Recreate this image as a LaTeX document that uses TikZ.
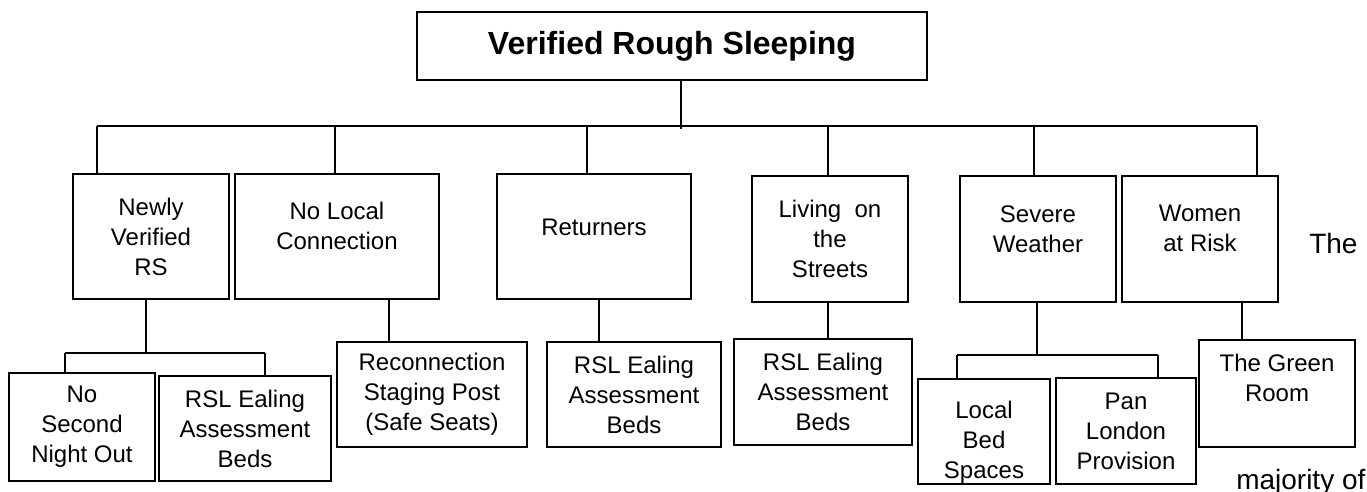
\documentclass[tikz,border=0pt]{standalone}
\usepackage{fontspec}
\setmainfont{Liberation Sans}
\tikzset{
  catbox/.style={rectangle, draw=black, line width=1.4pt, align=center, inner sep=0pt,
                 font=\fontsize{18}{22.5}\selectfont},
  topbox/.style={catbox, font=\fontsize{24}{28}\selectfont\bfseries},
  link/.style={line width=1.1pt, draw=black},
  side/.style={anchor=base west, inner sep=0pt, font=\fontsize{21}{25}\selectfont},
}
\begin{document}
\begin{tikzpicture}[x=0.75pt, y=-0.75pt]
  \useasboundingbox (0,0) rectangle (1367,492);
  % top
  \node[topbox, minimum width=382.5pt, minimum height=51pt] (root) at (672,46) {Verified Rough Sleeping};
  % groups
  \node[catbox, minimum width=117pt, minimum height=93.75pt] (newly) at (151,236.5) {Newly\\Verified\\RS};
  \node[catbox, minimum width=153pt, minimum height=93.75pt] (nolocal) at (337,236.5) {No Local\\Connection\\[-6.7pt]\mbox{}};
  \node[catbox, minimum width=145.5pt, minimum height=93.75pt] (returners) at (594,236.5) {Returners\\[-9pt]\mbox{}};
  \node[catbox, minimum width=117pt, minimum height=94.5pt] (living) at (830,239) {Living\ \ on\\the\\Streets};
  \node[catbox, minimum width=117pt, minimum height=94.5pt] (severe) at (1038,239) {Severe\\Weather\\[-7.5pt]\mbox{}};
  \node[catbox, minimum width=117pt, minimum height=94.5pt] (women) at (1200,239) {Women\\at Risk\\[-6.7pt]\mbox{}};
  % services
  \node[catbox, minimum width=109.5pt, minimum height=81pt] (nosecond) at (82,427) {No\\Second\\Night Out};
  \node[catbox, minimum width=129pt, minimum height=78.75pt] (rsla) at (245,428.5) {RSL Ealing\\Assessment\\Beds};
  \node[catbox, minimum width=142.5pt, minimum height=78.75pt] (reconn) at (432,394.5) {Reconnection\\Staging Post\\(Safe Seats)};
  \node[catbox, minimum width=130.5pt, minimum height=78.75pt] (rslb) at (634,394.5) {RSL Ealing\\Assessment\\Beds};
  \node[catbox, minimum width=133.5pt, minimum height=79.5pt] (rslc) at (823,392) {RSL Ealing\\Assessment\\Beds};
  \node[catbox, minimum width=99pt, minimum height=78.75pt] (localbed) at (984,431.5) {\mbox{}\\[6.9pt]Local\\Bed\\Spaces};
  \node[catbox, minimum width=105pt, minimum height=79.5pt] (pan) at (1126,431) {Pan\\London\\Provision};
  \node[catbox, minimum width=117pt, minimum height=80.25pt] (green) at (1277,393.5) {The Green\\Room\\[1.5pt]\mbox{}};
  % text beside
  \node[side] (the) at (1309,253) {The};
  \node[side] (maj) at (1236,489) {majority of};

  % top to groups
  \coordinate (rb) at (681,129);
  \draw[link] (root.south -| rb) -- (rb);
  \foreach \n/\x in {newly/97, nolocal/335, returners/587, living/828, severe/1034, women/1257} {
    \coordinate (d\n) at (\x,126);
    \draw[link] (d\n) -- (d\n |- \n.north);
  }
  \draw[link] (dnewly) -- (dwomen);

  % groups to services
  \foreach \p/\c/\x in {nolocal/reconn/389, returners/rslb/599, living/rslc/828, women/green/1242} {
    \coordinate (v\c) at (\x,0);
    \draw[link] (\p.south -| v\c) -- (\c.north -| v\c);
  }
  \coordinate (nm) at (146,353);
  \coordinate (na) at (65,353);
  \coordinate (nb) at (265,353);
  \draw[link] (newly.south -| nm) -- (nm);
  \draw[link] (na) -- (nb);
  \draw[link] (na) -- (na |- nosecond.north);
  \draw[link] (nb) -- (nb |- rsla.north);
  \coordinate (sm) at (1037,355);
  \coordinate (sa) at (957,355);
  \coordinate (sb) at (1158,355);
  \draw[link] (severe.south -| sm) -- (sm);
  \draw[link] (sa) -- (sb);
  \draw[link] (sa) -- (sa |- localbed.north);
  \draw[link] (sb) -- (sb |- pan.north);
\end{tikzpicture}
\end{document}
